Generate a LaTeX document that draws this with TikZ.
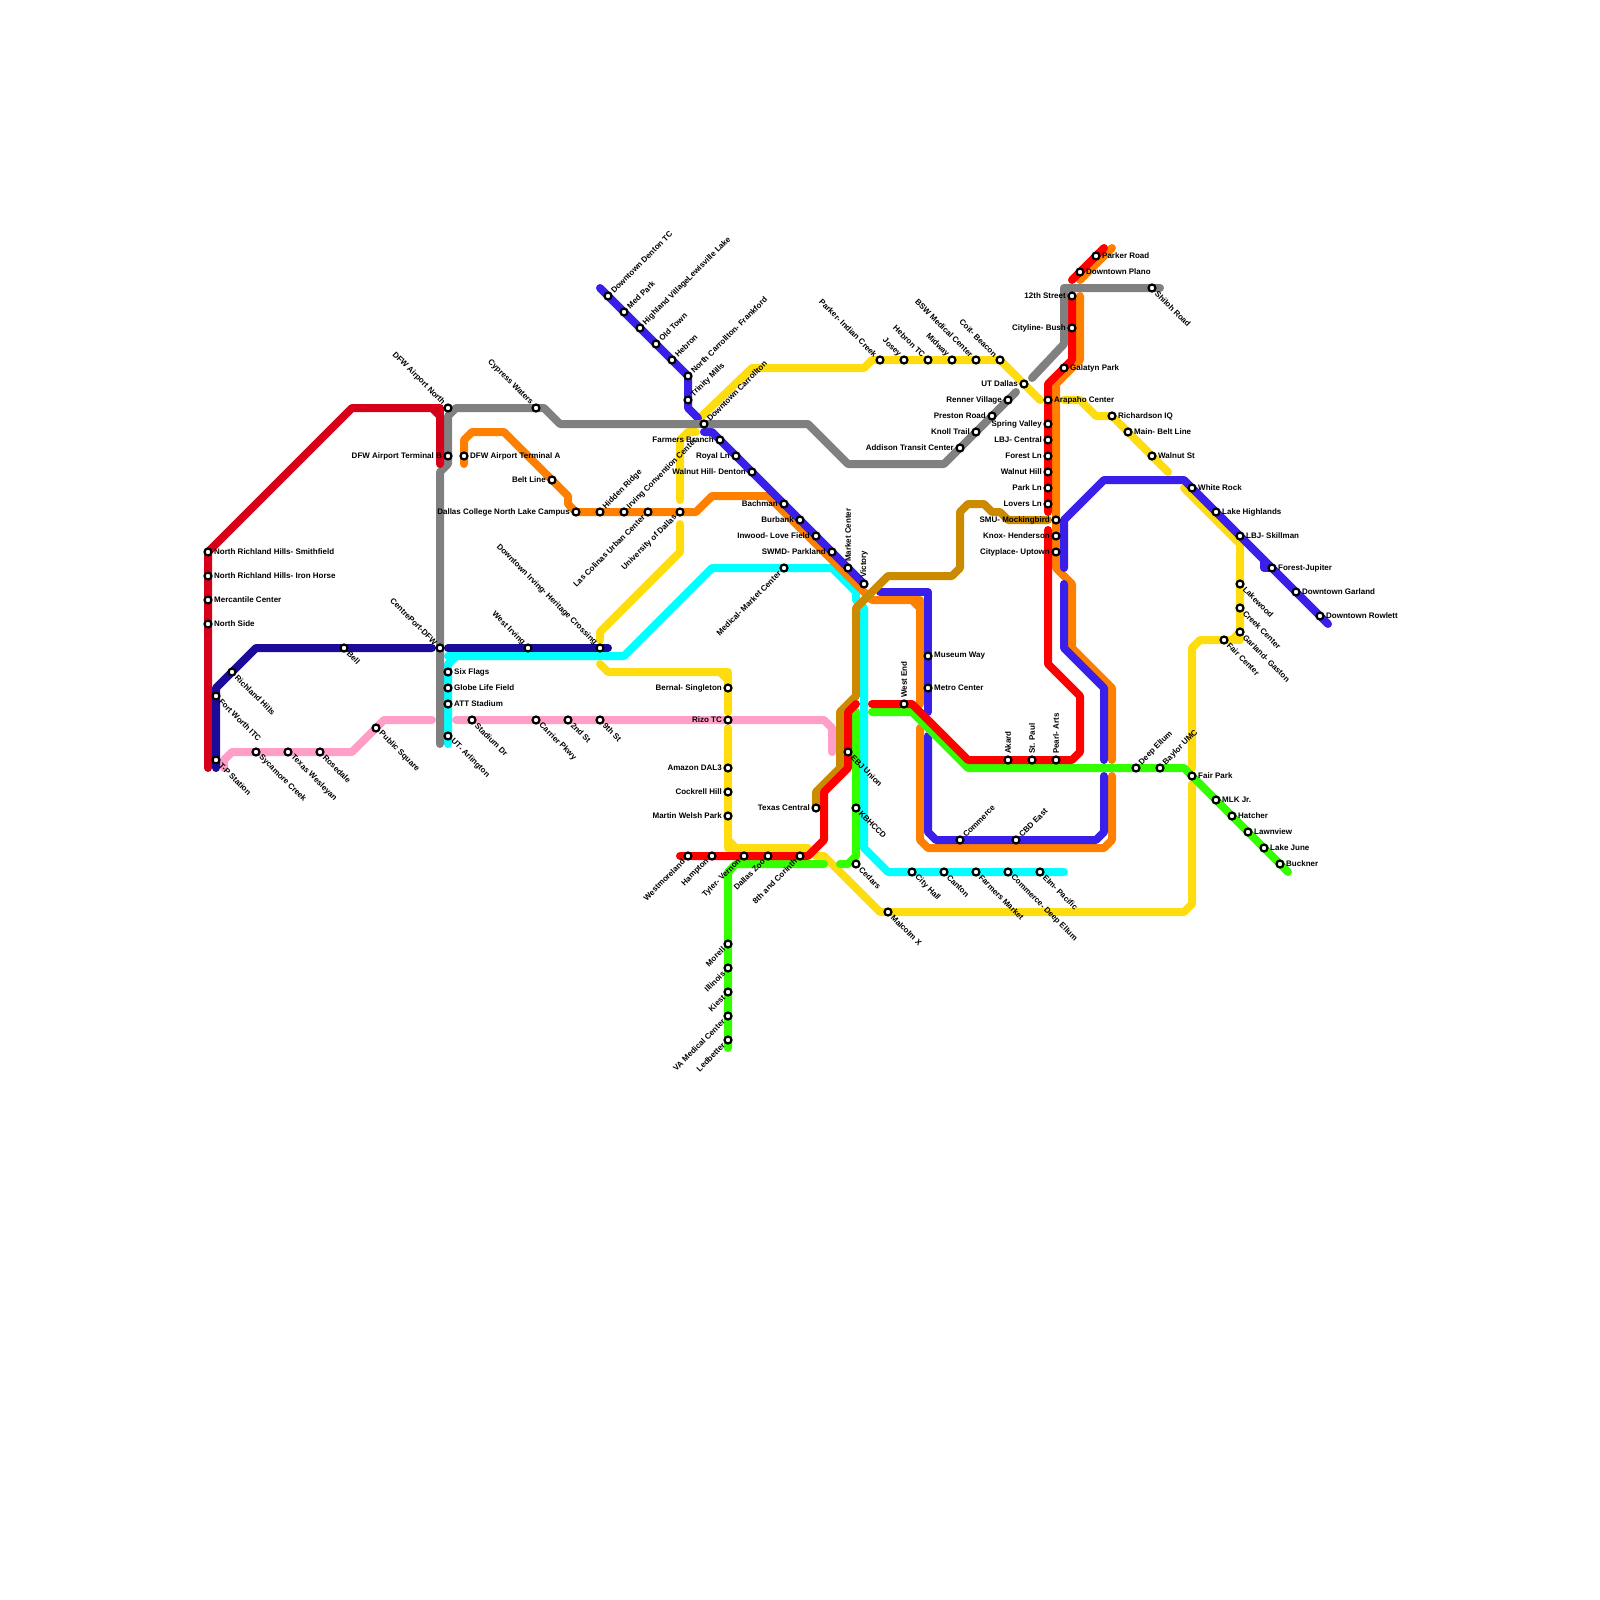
\documentclass[tikz,border=0pt]{standalone}
\usepackage{fontspec}
\setmainfont{Liberation Sans}
\definecolor{crimson}{HTML}{D7001A}
\definecolor{navy}{HTML}{1C0A99}
\definecolor{pinkline}{HTML}{FF9EC6}
\definecolor{grayline}{HTML}{808080}
\definecolor{orangeline}{HTML}{FF8000}
\definecolor{yellowline}{HTML}{FFDC0E}
\definecolor{cyanline}{HTML}{00FFFF}
\definecolor{blueline}{HTML}{3A1FEB}
\definecolor{redline}{HTML}{FF0000}
\definecolor{greenline}{HTML}{33FF00}
\definecolor{ochre}{HTML}{CC8A00}
\tikzset{
  metro/.style={line width=8pt,line cap=round,line join=round},
  station/.style={circle,draw=black,fill=white,line width=2.2pt,minimum size=7pt,inner sep=0pt},
  tag/.style={inner sep=0pt,font=\fontsize{8}{9}\selectfont\bfseries,text=black},
  tE/.style={tag,anchor=west,xshift=6pt},
  tW/.style={tag,anchor=east,xshift=-6pt},
  tN/.style={tag,yshift=6pt,rotate=90,anchor=west},
  tNE/.style={tag,xshift=4.2pt,yshift=4.2pt,rotate=45,anchor=west},
  tSE/.style={tag,xshift=4.2pt,yshift=-4.2pt,rotate=-45,anchor=west},
  tNW/.style={tag,xshift=-4.2pt,yshift=4.2pt,rotate=-45,anchor=east},
  tSW/.style={tag,xshift=-4.2pt,yshift=-4.2pt,rotate=45,anchor=east}
}
\begin{document}
\begin{tikzpicture}[x=1pt,y=-1pt]
    \useasboundingbox [fill=white] (0,0) rectangle (1600,1600);
    % Lines
    \draw [metro,pinkline] (224,768) -- (224,760) -- (232,752) -- (352,752) -- (384,720) -- (432,720);
    \draw [metro,pinkline] (456,720) -- (824,720) -- (832,728) -- (832,752);
    \draw [metro,yellowline] (600,664) -- (608,672) -- (720,672) -- (728,680) -- (728,712);
    \draw [metro,yellowline] (720,672) -- (728,672) -- (728,680);
    \draw [metro,yellowline] (728,728) -- (728,840) -- (736,848) -- (808,848);
    \draw [metro,yellowline] (728,840) -- (728,848) -- (736,848);
    \draw [metro,yellowline] (816,856) -- (824,856) -- (880,912) -- (1184,912) -- (1192,904) -- (1192,784);
    \draw [metro,yellowline] (1192,768) -- (1192,648) -- (1200,640) -- (1232,640) -- (1240,632) -- (1240,544) -- (1184,488);
    \draw [metro,yellowline] (1232,640) -- (1240,640) -- (1240,632);
    \draw [metro,yellowline] (600,640) -- (600,632) -- (680,552) -- (680,524);
    \draw [metro,yellowline] (680,500) -- (680,440) -- (688,432) -- (696,432);
    \draw [metro,yellowline] (702,416) -- (752,368) -- (864,368) -- (872,360) -- (1000,360) -- (1040,400);
    \draw [metro,yellowline] (1064,400) -- (1080,400) -- (1096,416) -- (1112,416) -- (1168,472);
    \draw [metro,cyanline] (448,656) -- (456,656);
    \draw [metro,cyanline] (448,744) -- (448,664) -- (456,656) -- (624,656) -- (712,568) -- (832,568) -- (856,592) -- (856,600) -- (864,608) -- (864,848) -- (888,872) -- (1064,872);
    \draw [metro,orangeline] (464,464) -- (464,440) -- (472,432) -- (504,432) -- (568,496) -- (568,504) -- (576,512) -- (696,512) -- (712,496) -- (768,496) -- (864,592) -- (872,600) -- (912,600) -- (920,608) -- (920,704);
    \draw [metro,orangeline] (912,600) -- (920,600) -- (920,608);
    \draw [metro,orangeline] (920,728) -- (920,840) -- (928,848) -- (1104,848) -- (1112,840) -- (1112,776);
    \draw [metro,orangeline] (1112,760) -- (1112,688) -- (1072,648) -- (1072,584) -- (1056,568) -- (1056,384) -- (1080,360) -- (1080,296);
    \draw [metro,orangeline] (1080,280) -- (1112,248);
    \draw [metro,blueline] (600,288) -- (688,376) -- (688,408) -- (698,418);
    \draw [metro,blueline] (704,432) -- (712,432) -- (864,584);
    \draw [metro,blueline] (880,592) -- (928,592) -- (928,712);
    \draw [metro,blueline] (928,736) -- (928,832) -- (936,840) -- (1096,840) -- (1104,832) -- (1104,776);
    \draw [metro,blueline] (1104,760) -- (1104,688) -- (1064,648) -- (1064,584);
    \draw [metro,blueline] (1064,568) -- (1064,520) -- (1104,480) -- (1184,480) -- (1328,624);
    \draw [metro,blueline] (1264,560) -- (1264,568) -- (1272,568);
    \draw [metro,ochre] (1048,520) -- (1008,520) -- (1000,512) -- (992,512) -- (984,504) -- (968,504) -- (960,512) -- (960,568) -- (952,576) -- (888,576) -- (856,608) -- (856,696) -- (840,712) -- (840,768) -- (816,792) -- (816,808);
    \draw [metro,greenline] (872,712) -- (912,712) -- (968,768) -- (1184,768) -- (1288,872);
    \draw [metro,greenline] (856,712) -- (856,856) -- (848,864) -- (840,864);
    \draw [metro,greenline] (728,1048) -- (728,872) -- (736,864) -- (824,864);
    \draw [metro,redline] (1072,280) -- (1104,248);
    \draw [metro,redline] (1072,296) -- (1072,360) -- (1048,384) -- (1048,512);
    \draw [metro,redline] (1048,530) -- (1048,664) -- (1080,696) -- (1080,752) -- (1072,760) -- (968,760) -- (912,704) -- (872,704);
    \draw [metro,redline] (856,704) -- (848,712) -- (848,768) -- (824,792) -- (824,840) -- (808,856) -- (680,856);
    \draw [metro,grayline] (440,744) -- (440,472) -- (448,464) -- (448,416) -- (456,408) -- (544,408) -- (560,424) -- (808,424) -- (848,464) -- (944,464) -- (1016,392);
    \draw [metro,grayline] (1032,378) -- (1064,344) -- (1064,288) -- (1160,288);
    \draw [metro,crimson] (208,768) -- (208,552) -- (352,408) -- (432,408) -- (440,416) -- (440,464);
    \draw [metro,crimson] (432,408) -- (440,408) -- (440,416);
    \draw [metro,navy] (216,768) -- (216,688) -- (256,648) -- (432,648);
    \draw [metro,navy] (448,648) -- (608,648);
    % Stations, west
    \node [station] (smithfield) at (208,552) {}; \node [tE] (smithfieldt) at (smithfield) {North Richland Hills- Smithfield};
    \node [station] (ironhorse) at (208,576) {}; \node [tE] (ironhorset) at (ironhorse) {North Richland Hills- Iron Horse};
    \node [station] (mercantile) at (208,600) {}; \node [tE] (mercantilet) at (mercantile) {Mercantile Center};
    \node [station] (northside) at (208,624) {}; \node [tE] (northsidet) at (northside) {North Side};
    \node [station] (bell) at (344,648) {}; \node [tSE] (bellt) at (bell) {Bell};
    \node [station] (richland) at (232,672) {}; \node [tSE] (richlandt) at (richland) {Richland Hills};
    \node [station] (fortworth) at (216,696) {}; \node [tSE] (fortwortht) at (fortworth) {Fort Worth ITC};
    \node [station] (tp) at (216,760) {}; \node [tSE] (tpt) at (tp) {T-P Station};
    \node [station] (sycamore) at (256,752) {}; \node [tSE] (sycamoret) at (sycamore) {Sycamore Creek};
    \node [station] (wesleyan) at (288,752) {}; \node [tSE] (wesleyant) at (wesleyan) {Texas Wesleyan};
    \node [station] (rosedale) at (320,752) {}; \node [tSE] (rosedalet) at (rosedale) {Rosedale};
    \node [station] (public) at (376,728) {}; \node [tSE] (publict) at (public) {Public Square};
    \node [station] (centreport) at (440,648) {}; \node [tNW] (centreportt) at (centreport) {CentrePort-DFW};
    \node [station] (dfwnorth) at (448,408) {}; \node [tNW] (dfwnortht) at (dfwnorth) {DFW Airport North};
    \node [station] (dfwb) at (448,456) {}; \node [tW] (dfwbt) at (dfwb) {DFW Airport Terminal B};
    \node [station] (dfwa) at (464,456) {}; \node [tE] (dfwat) at (dfwa) {DFW Airport Terminal A};
    \node [station] (cypress) at (536,408) {}; \node [tNW] (cypresst) at (cypress) {Cypress Waters};
    \node [station] (beltline) at (552,480) {}; \node [tW] (beltlinet) at (beltline) {Belt Line};
    \node [station] (northlake) at (576,512) {}; \node [tW] (northlaket) at (northlake) {Dallas College North Lake Campus};
    \node [station] (hidden) at (600,512) {}; \node [tNE] (hiddent) at (hidden) {Hidden Ridge};
    \node [station] (irving) at (624,512) {}; \node [tNE] (irvingt) at (irving) {Irving Convention Center};
    \node [station] (colinas) at (648,512) {}; \node [tSW] (colinast) at (colinas) {Las Colinas Urban Center};
    \node [station] (udallas) at (680,512) {}; \node [tSW] (udallast) at (udallas) {University of Dallas};
    \node [station] (heritage) at (600,648) {}; \node [tNW] (heritaget) at (heritage) {Downtown Irving- Heritage Crossing};
    \node [station] (westirving) at (528,648) {}; \node [tNW] (westirvingt) at (westirving) {West Irving};
    \node [station] (sixflags) at (448,672) {}; \node [tE] (sixflagst) at (sixflags) {Six Flags};
    \node [station] (globelife) at (448,688) {}; \node [tE] (globelifet) at (globelife) {Globe Life Field};
    \node [station] (att) at (448,704) {}; \node [tE] (attt) at (att) {ATT Stadium};
    \node [station] (arlington) at (448,736) {}; \node [tSE] (arlingtont) at (arlington) {UT- Arlington};
    \node [station] (stadiumdr) at (472,720) {}; \node [tSE] (stadiumdrt) at (stadiumdr) {Stadium Dr};
    \node [station] (carrier) at (536,720) {}; \node [tSE] (carriert) at (carrier) {Carrier Pkwy};
    \node [station] (second) at (568,720) {}; \node [tSE] (secondt) at (second) {2nd St};
    \node [station] (ninth) at (600,720) {}; \node [tSE] (nintht) at (ninth) {9th St};
    % Stations, north
    \node [station] (denton) at (608,296) {}; \node [tNE] (dentont) at (denton) {Downtown Denton TC};
    \node [station] (medpark) at (624,312) {}; \node [tNE] (medparkt) at (medpark) {Med Park};
    \node [station] (highland) at (640,328) {}; \node [tNE] (highlandt) at (highland) {Highland VillageLewisville Lake};
    \node [station] (oldtown) at (656,344) {}; \node [tNE] (oldtownt) at (oldtown) {Old Town};
    \node [station] (hebron) at (672,360) {}; \node [tNE] (hebront) at (hebron) {Hebron};
    \node [station] (frankford) at (688,376) {}; \node [tNE] (frankfordt) at (frankford) {North Carrollton- Frankford};
    \node [station] (trinity) at (688,400) {}; \node [tNE] (trinityt) at (trinity) {Trinity Mills};
    \node [station] (carrollton) at (704,424) {}; \node [tNE] (carrolltont) at (carrollton) {Downtown Carrollton};
    \node [station] (farmers) at (720,440) {}; \node [tW] (farmerst) at (farmers) {Farmers Branch};
    \node [station] (royal) at (736,456) {}; \node [tW] (royalt) at (royal) {Royal Ln};
    \node [station] (denton2) at (752,472) {}; \node [tW] (denton2t) at (denton2) {Walnut Hill- Denton};
    \node [station] (bachman) at (784,504) {}; \node [tW] (bachmant) at (bachman) {Bachman};
    \node [station] (burbank) at (800,520) {}; \node [tW] (burbankt) at (burbank) {Burbank};
    \node [station] (inwood) at (816,536) {}; \node [tW] (inwoodt) at (inwood) {Inwood- Love Field};
    \node [station] (parkland) at (832,552) {}; \node [tW] (parklandt) at (parkland) {SWMD- Parkland};
    \node [station] (market) at (848,568) {}; \node [tN] (markett) at (market) {Market Center};
    \node [station] (victory) at (864,584) {}; \node [tN] (victoryt) at (victory) {Victory};
    \node [station] (medical) at (784,568) {}; \node [tSW] (medicalt) at (medical) {Medical- Market Center};
    \node [station] (parker) at (880,360) {}; \node [tNW] (parkert) at (parker) {Parker- Indian Creek};
    \node [station] (josey) at (904,360) {}; \node [tNW] (joseyt) at (josey) {Josey};
    \node [station] (hebrontc) at (928,360) {}; \node [tNW] (hebrontct) at (hebrontc) {Hebron TC};
    \node [station] (midway) at (952,360) {}; \node [tNW] (midwayt) at (midway) {Midway};
    \node [station] (bsw) at (976,360) {}; \node [tNW] (bswt) at (bsw) {BSW Medical Center};
    \node [station] (coit) at (1000,360) {}; \node [tNW] (coitt) at (coit) {Coit- Beacon};
    \node [station] (utdallas) at (1024,384) {}; \node [tW] (utdallast) at (utdallas) {UT Dallas};
    \node [station] (renner) at (1008,400) {}; \node [tW] (rennert) at (renner) {Renner Village};
    \node [station] (preston) at (992,416) {}; \node [tW] (prestont) at (preston) {Preston Road};
    \node [station] (knoll) at (976,432) {}; \node [tW] (knollt) at (knoll) {Knoll Trail};
    \node [station] (addison) at (960,448) {}; \node [tW] (addisont) at (addison) {Addison Transit Center};
    % Stations, east
    \node [station] (parkerroad) at (1096,256) {}; \node [tE] (parkerroadt) at (parkerroad) {Parker Road};
    \node [station] (plano) at (1080,272) {}; \node [tE] (planot) at (plano) {Downtown Plano};
    \node [station] (shiloh) at (1152,288) {}; \node [tSE] (shiloht) at (shiloh) {Shiloh Road};
    \node [station] (twelfth) at (1072,296) {}; \node [tW] (twelftht) at (twelfth) {12th Street};
    \node [station] (cityline) at (1072,328) {}; \node [tW] (citylinet) at (cityline) {Cityline- Bush};
    \node [station] (galatyn) at (1064,368) {}; \node [tE] (galatynt) at (galatyn) {Galatyn Park};
    \node [station] (arapaho) at (1048,400) {}; \node [tE] (arapahot) at (arapaho) {Arapaho Center};
    \node [station] (spring) at (1048,424) {}; \node [tW] (springt) at (spring) {Spring Valley};
    \node [station] (lbjcentral) at (1048,440) {}; \node [tW] (lbjcentralt) at (lbjcentral) {LBJ- Central};
    \node [station] (forest) at (1048,456) {}; \node [tW] (forestt) at (forest) {Forest Ln};
    \node [station] (walnuthill) at (1048,472) {}; \node [tW] (walnuthillt) at (walnuthill) {Walnut Hill};
    \node [station] (parkln) at (1048,488) {}; \node [tW] (parklnt) at (parkln) {Park Ln};
    \node [station] (lovers) at (1048,504) {}; \node [tW] (loverst) at (lovers) {Lovers Ln};
    \node [station] (smu) at (1056,520) {}; \node [tW] (smut) at (smu) {SMU- Mockingbird};
    \node [station] (knox) at (1056,536) {}; \node [tW] (knoxt) at (knox) {Knox- Henderson};
    \node [station] (cityplace) at (1056,552) {}; \node [tW] (cityplacet) at (cityplace) {Cityplace- Uptown};
    \node [station] (richardson) at (1112,416) {}; \node [tE] (richardsont) at (richardson) {Richardson IQ};
    \node [station] (mainbelt) at (1128,432) {}; \node [tE] (mainbeltt) at (mainbelt) {Main- Belt Line};
    \node [station] (walnutst) at (1152,456) {}; \node [tE] (walnutstt) at (walnutst) {Walnut St};
    \node [station] (whiterock) at (1192,488) {}; \node [tE] (whiterockt) at (whiterock) {White Rock};
    \node [station] (lakehigh) at (1216,512) {}; \node [tE] (lakehight) at (lakehigh) {Lake Highlands};
    \node [station] (skillman) at (1240,536) {}; \node [tE] (skillmant) at (skillman) {LBJ- Skillman};
    \node [station] (jupiter) at (1272,568) {}; \node [tE] (jupitert) at (jupiter) {Forest-Jupiter};
    \node [station] (garland) at (1296,592) {}; \node [tE] (garlandt) at (garland) {Downtown Garland};
    \node [station] (rowlett) at (1320,616) {}; \node [tE] (rowlettt) at (rowlett) {Downtown Rowlett};
    \node [station] (lakewood) at (1240,584) {}; \node [tSE] (lakewoodt) at (lakewood) {Lakewood};
    \node [station] (creek) at (1240,608) {}; \node [tSE] (creekt) at (creek) {Creek Center};
    \node [station] (gaston) at (1240,632) {}; \node [tSE] (gastont) at (gaston) {Garland- Gaston};
    \node [station] (faircenter) at (1224,640) {}; \node [tSE] (faircentert) at (faircenter) {Fair Center};
    % Stations, south
    \node [station] (bernal) at (728,688) {}; \node [tW] (bernalt) at (bernal) {Bernal- Singleton};
    \node [station] (rizo) at (728,720) {}; \node [tW] (rizot) at (rizo) {Rizo TC};
    \node [station] (amazon) at (728,768) {}; \node [tW] (amazont) at (amazon) {Amazon DAL3};
    \node [station] (cockrell) at (728,792) {}; \node [tW] (cockrellt) at (cockrell) {Cockrell Hill};
    \node [station] (welsh) at (728,816) {}; \node [tW] (welsht) at (welsh) {Martin Welsh Park};
    \node [station] (texas) at (816,808) {}; \node [tW] (texast) at (texas) {Texas Central};
    \node [station] (ebj) at (848,752) {}; \node [tSE] (ebjt) at (ebj) {EBJ Union};
    \node [station] (kbhccd) at (856,808) {}; \node [tSE] (kbhccdt) at (kbhccd) {KBHCCD};
    \node [station] (cedars) at (856,864) {}; \node [tSE] (cedarst) at (cedars) {Cedars};
    \node [station] (westend) at (904,704) {}; \node [tN] (westendt) at (westend) {West End};
    \node [station] (museum) at (928,656) {}; \node [tE] (museumt) at (museum) {Museum Way};
    \node [station] (metro) at (928,688) {}; \node [tE] (metrot) at (metro) {Metro Center};
    \node [station] (westmoreland) at (688,856) {}; \node [tSW] (westmorelandt) at (westmoreland) {Westmoreland};
    \node [station] (hampton) at (712,856) {}; \node [tSW] (hamptont) at (hampton) {Hampton};
    \node [station] (tyler) at (744,856) {}; \node [tSW] (tylert) at (tyler) {Tyler- Vernon};
    \node [station] (zoo) at (768,856) {}; \node [tSW] (zoot) at (zoo) {Dallas Zoo};
    \node [station] (corinth) at (800,856) {}; \node [tSW] (corintht) at (corinth) {8th and Corinth};
    \node [station] (malcolm) at (888,912) {}; \node [tSE] (malcolmt) at (malcolm) {Malcolm X};
    \node [station] (cityhall) at (912,872) {}; \node [tSE] (cityhallt) at (cityhall) {City Hall};
    \node [station] (canton) at (944,872) {}; \node [tSE] (cantont) at (canton) {Canton};
    \node [station] (farmersm) at (976,872) {}; \node [tSE] (farmersmt) at (farmersm) {Farmers Market};
    \node [station] (commercede) at (1008,872) {}; \node [tSE] (commercedet) at (commercede) {Commerce- Deep Ellum};
    \node [station] (elm) at (1040,872) {}; \node [tSE] (elmt) at (elm) {Elm- Pacific};
    \node [station] (commerce) at (960,840) {}; \node [tNE] (commercet) at (commerce) {Commerce};
    \node [station] (cbdeast) at (1016,840) {}; \node [tNE] (cbdeastt) at (cbdeast) {CBD East};
    \node [station] (akard) at (1008,760) {}; \node [tN] (akardt) at (akard) {Akard};
    \node [station] (stpaul) at (1032,760) {}; \node [tN] (stpault) at (stpaul) {St. Paul};
    \node [station] (pearl) at (1056,760) {}; \node [tN] (pearlt) at (pearl) {Pearl- Arts};
    \node [station] (deepellum) at (1136,768) {}; \node [tNE] (deepellumt) at (deepellum) {Deep Ellum};
    \node [station] (baylor) at (1160,768) {}; \node [tNE] (baylort) at (baylor) {Baylor UMC};
    \node [station] (fairpark) at (1192,776) {}; \node [tE] (fairparkt) at (fairpark) {Fair Park};
    \node [station] (mlk) at (1216,800) {}; \node [tE] (mlkt) at (mlk) {MLK Jr.};
    \node [station] (hatcher) at (1232,816) {}; \node [tE] (hatchert) at (hatcher) {Hatcher};
    \node [station] (lawnview) at (1248,832) {}; \node [tE] (lawnviewt) at (lawnview) {Lawnview};
    \node [station] (lakejune) at (1264,848) {}; \node [tE] (lakejunet) at (lakejune) {Lake June};
    \node [station] (buckner) at (1280,864) {}; \node [tE] (bucknert) at (buckner) {Buckner};
    \node [station] (morell) at (728,944) {}; \node [tSW] (morellt) at (morell) {Morell};
    \node [station] (illinois) at (728,968) {}; \node [tSW] (illinoist) at (illinois) {Illinois};
    \node [station] (kiest) at (728,992) {}; \node [tSW] (kiestt) at (kiest) {Kiest};
    \node [station] (vamedical) at (728,1016) {}; \node [tSW] (vamedicalt) at (vamedical) {VA Medical Center};
    \node [station] (ledbetter) at (728,1040) {}; \node [tSW] (ledbettert) at (ledbetter) {Ledbetter};
\end{tikzpicture}
\end{document}
